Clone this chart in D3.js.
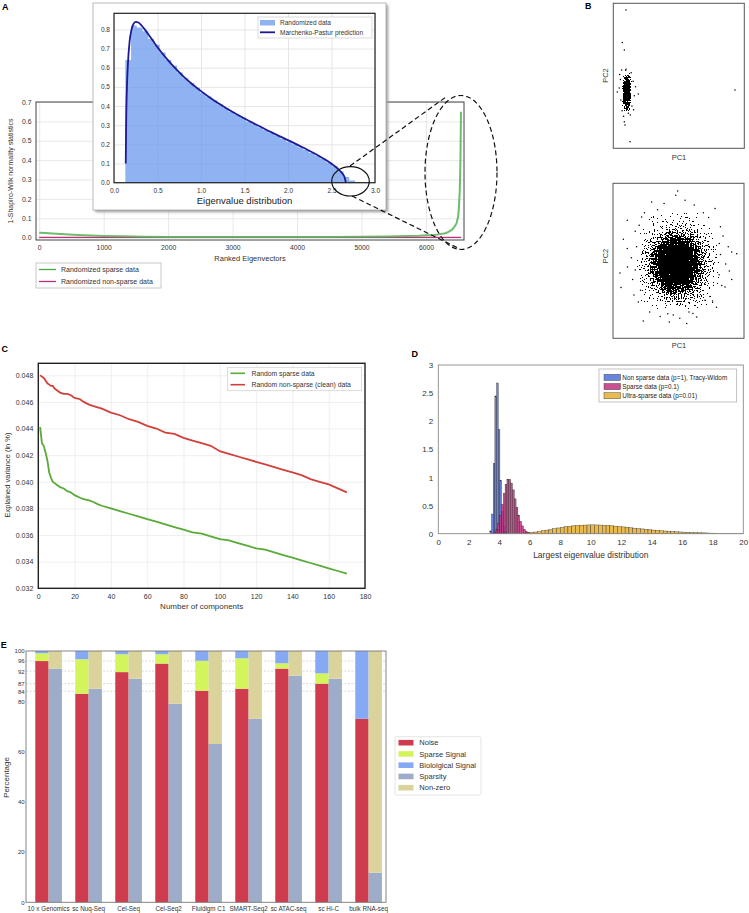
<!DOCTYPE html>
<html><head><meta charset="utf-8">
<script src="https://cdn.jsdelivr.net/npm/d3@7/dist/d3.min.js"></script>
<style>html,body{margin:0;padding:0;background:#fff;} svg{display:block;}</style>
</head><body>
<svg id="fig" width="749" height="913" xmlns="http://www.w3.org/2000/svg"></svg>
<script>
// ================= DATA =================
// Panel A (main): 1 - Shapiro-Wilk statistic per ranked eigenvector
const rankSparseA = [0,100,200,400,600,800,1000,1300,1600,2000,2500,3000,3500,4000,4500,5000,5400,5700,5900,6000,6100,6200,6300,6350,6400,6440,6475,6500,6512,6525,6535,6543];
const swSparseA   = [0.026,0.024,0.022,0.018,0.014,0.011,0.009,0.007,0.005,0.004,0.003,0.003,0.003,0.003,0.004,0.005,0.006,0.008,0.010,0.012,0.013,0.017,0.023,0.030,0.040,0.055,0.075,0.11,0.16,0.25,0.40,0.65];
const rankDenseA  = [0,3000,6543];
const swDenseA    = [0.002,0.002,0.002];
const xTicksA = [0,1000,2000,3000,4000,5000,6000];
const yTicksA = [0,0.1,0.2,0.3,0.4,0.5,0.6,0.7];
const legendA = ['Randomized sparse data','Randomized non-sparse data'];

// Panel A (inset): eigenvalue histogram + Marchenko-Pastur curve
const histStartI = 0.13, histBinWI = 0.066;
const histHeightsI = [0.64,0.82,0.81,0.79,0.75,0.72,0.68,0.64,0.61,0.575,0.545,0.52,0.495,0.47,0.45,0.43,0.41,0.39,0.37,0.355,0.34,0.32,0.305,0.29,0.275,0.26,0.245,0.23,0.215,0.2,0.185,0.17,0.155,0.14,0.125,0.105,0.085,0.06,0.03,0.012,0.004,0.001];
const mpX = [0.135,0.14,0.15,0.16,0.18,0.2,0.22,0.25,0.28,0.32,0.36,0.4,0.45,0.5,0.6,0.7,0.8,0.9,1.0,1.1,1.2,1.3,1.4,1.5,1.6,1.7,1.8,1.9,2.0,2.1,2.2,2.3,2.4,2.45,2.5,2.55,2.6,2.63,2.65,2.665];
const mpY = [0.10,0.32,0.515,0.62,0.74,0.796,0.825,0.839,0.836,0.819,0.796,0.771,0.739,0.707,0.65,0.599,0.554,0.514,0.478,0.445,0.414,0.386,0.36,0.335,0.311,0.288,0.265,0.243,0.222,0.2,0.177,0.154,0.128,0.115,0.099,0.082,0.061,0.045,0.029,0.0];
const xTicksI = [0,0.5,1,1.5,2,2.5,3];
const yTicksI = [0,0.1,0.2,0.3,0.4,0.5,0.6,0.7,0.8];
const legendI = ['Randomized data','Marchenko-Pastur prediction'];

// Panel B (top): sparse data PCA - dense core (point density per cell) + individual points
const coreColsB1 = [-1,-0.5,0,0.5];
const coreRowsB1 = [2.5,1.5,0.5,-0.5,-1.5,-2.5];
const coreDensB1 = [
  [0.45,0.8,0.8,0.45],
  [0.85,0.97,0.97,0.85],
  [0.92,0.97,0.97,0.92],
  [0.92,0.97,0.97,0.92],
  [0.85,0.97,0.97,0.8],
  [0.4,0.75,0.7,0.4]];
const pointsB1 = [[-0.2,13.3],[-1.13,7.9],[-0.63,6.67],[-1.28,3.36],[-0.2,3.47],[27.25,0.05],[2.9,-0.62],[-0.63,-5.2],[-0.45,-5.75],[0.8,-8.5],
  [-1.6,1.8],[-1.9,0.4],[1.6,1.5],[1.9,-0.9],[-1.5,-1.6],[1.3,-2.6],[-1.2,-3.4],[0.4,-3.8],[-0.3,3.3],[1.1,2.9],[2.2,0.6],[-2.4,-0.3],[0.9,-4.1],[-0.8,-4.3],[1.7,-3.2],[-1.8,2.6]];

// Panel B (bottom): non-sparse data PCA - point density per cell
const coreColsB2 = [-3,-2.5,-2,-1.5,-1,-0.5,0,0.5,1,1.5,2,2.5];
const coreRowsB2 = [3,2.5,2,1.5,1,0.5,0,-0.5,-1,-1.5,-2,-2.5];
const coreDensB2 = [
  [.04,.07,.11,.14,.17,.18,.17,.16,.12,.09,.05,.03],
  [.07,.13,.19,.25,.3,.32,.31,.27,.22,.15,.1,.05],
  [.12,.2,.3,.39,.47,.52,.5,.43,.34,.24,.15,.09],
  [.18,.28,.42,.6,.79,.88,.85,.69,.49,.34,.22,.13],
  [.23,.37,.57,.87,.97,.97,.97,.94,.7,.44,.28,.16],
  [.26,.42,.71,.97,.97,.97,.97,.97,.87,.52,.32,.19],
  [.27,.44,.74,.97,.97,.97,.97,.97,.9,.54,.33,.2],
  [.25,.41,.67,.96,.97,.97,.97,.97,.83,.5,.31,.18],
  [.21,.34,.52,.8,.96,.97,.97,.9,.64,.41,.27,.15],
  [.16,.26,.38,.53,.69,.77,.74,.6,.44,.31,.2,.12],
  [.11,.18,.27,.35,.42,.45,.44,.38,.3,.22,.14,.08],
  [.07,.12,.16,.22,.26,.28,.27,.24,.19,.13,.08,.04]];
const pointsB2 = [[-0.06,4.5],[-0.21,4.23],[-2.05,3.79],[2.79,3.37],[-3.91,2.61],[-2.81,2.83],[-4.21,1.39],[-3.91,0.79],[-4.47,-0.79],[-4.39,-1.73],[4.44,0.46],[4.06,0.57],[3.11,1.11],[3.88,-0.66],[4.06,-1.21],[3.55,-1.69],[-3.07,-2.66],[-2.69,-3.88],[-0.82,-3.41],[-0.70,-3.95],[0.63,-4.05],[1.39,-3.63],[2.02,-2.55],
  [-3.3,1.9],[-3.6,0.2],[-3.5,-1.2],[-2.2,-3.3],[-1.4,-3.6],[0.1,-3.7],[1.1,-3.4],[2.6,-2.6],[3.3,-1.6],[3.6,-0.2],[3.4,1.6],[2.3,2.8],[1.2,3.6],[0.5,3.9],[-1.1,3.7],[-2.6,3.1],[-3.4,-2.2],[3.8,0.9],[-3.9,-0.4],[2.9,-3.0],
  [-3.2,0.9],[-3.3,-0.6],[3.2,0.4],[3.1,-0.9],[1.9,3.1],[-1.6,3.3],[-0.4,-3.5],[0.8,-3.3],[-2.9,-1.9],[2.4,-2.3],[3.2,2.2],[-3.0,2.3]];

// Panel C: explained variance per component
const compSparseC = [1,2,3,4,5,6,7,8,9,10,11,12,14,16,18,20,23,25,28,30,33,35,40,45,50,55,60,65,70,75,80,85,90,95,100,105,110,115,120,125,130,135,140,145,150,155,160,165,170];
const varSparseC  = [0.0441,0.0429,0.0427,0.0422,0.0416,0.0407,0.0403,0.0400,0.0399,0.0398,0.0397,0.0396,0.0395,0.0393,0.0392,0.0390,0.0388,0.0387,0.0386,0.0385,0.0383,0.0382,0.0380,0.0378,0.0376,0.0374,0.0372,0.0370,0.0368,0.0366,0.0364,0.0362,0.0361,0.0359,0.0357,0.0356,0.0354,0.0352,0.0350,0.0349,0.0347,0.0345,0.0343,0.0341,0.0339,0.0337,0.0335,0.0333,0.0331];
const compDenseC  = [1,2,3,4,5,6,7,8,9,10,11,12,14,16,18,20,23,25,28,30,35,40,45,50,55,60,65,70,75,80,85,90,95,100,105,110,115,120,125,130,135,140,145,150,155,160,165,170];
const varDenseC   = [0.0480,0.0479,0.0478,0.0476,0.0474,0.0473,0.0472,0.0472,0.0470,0.0469,0.0468,0.0467,0.0466,0.0466,0.0465,0.0463,0.0462,0.0460,0.0458,0.0457,0.0455,0.0452,0.0450,0.0447,0.0445,0.0442,0.0440,0.0437,0.0436,0.0433,0.0431,0.0429,0.0427,0.0423,0.0421,0.0419,0.0417,0.0415,0.0413,0.0411,0.0409,0.0407,0.0405,0.0402,0.0400,0.0398,0.0395,0.0392];
const xTicksC = [0,20,40,60,80,100,120,140,160,180];
const yTicksC = [0.032,0.034,0.036,0.038,0.040,0.042,0.044,0.046,0.048];
const legendC = ['Random sparse data','Random non-sparse (clean) data'];

// Panel D: largest eigenvalue histograms
const blueStartD = 3.38, blueBinWD = 0.11;
const blueHD = [0.05,0.35,1.25,2.45,2.68,1.85,0.95,0.40,0.12,0.03];
const magStartD = 3.54, magBinWD = 0.12;
const magHD = [0.01,0.03,0.08,0.18,0.33,0.52,0.72,0.88,0.96,0.97,0.9,0.78,0.62,0.47,0.33,0.22,0.14,0.08,0.045,0.025,0.01];
const goldStartD = 5.5, goldBinWD = 0.25;
const goldHD = [0.010,0.015,0.022,0.030,0.040,0.052,0.064,0.076,0.090,0.102,0.114,0.124,0.133,0.140,0.146,0.151,0.154,0.156,0.157,0.156,0.154,0.150,0.146,0.141,0.135,0.128,0.121,0.114,0.107,0.099,0.092,0.085,0.078,0.071,0.065,0.059,0.053,0.048,0.043,0.039,0.035,0.031,0.028,0.025,0.022,0.019,0.017,0.015,0.013,0.011,0.010,0.008,0.007,0.006,0.005,0.004,0.004,0.003];
const xTicksD = [0,2,4,6,8,10,12,14,16,18,20];
const yTicksD = [0,0.5,1,1.5,2,2.5,3];
const legendD = ['Non sparse data (p=1), Tracy-Widom','Sparse data (p=0.1)','Ultra-sparse data (p=0.01)'];

// Panel E: stacked percentages
const categoriesE = ['10 x Genomics','sc Nuq-Seq','Cel-Seq','Cel-Seq2','Fluidigm C1','SMART-Seq2','sc ATAC-seq','sc Hi-C','bulk RNA-seq'];
const noiseE        = [96,83,91.6,95,84.2,85,93,87,73];
const sparseSignalE = [3.1,13.7,7.1,3.7,11.9,12.1,2.1,4.1,0];
const bioSignalE    = [0.9,3.3,1.3,1.3,3.9,2.9,4.9,8.9,27];
const sparsityE     = [93,85,89,79,63,73,90.2,89,11.8];
const nonZeroE      = [7,15,11,21,37,27,9.8,11,88.2];
const yTicksE = [0,20,40,60,80,84,87,92,96,100];
const refLinesE = [84,87,92,96];
const legendE = ['Noise','Sparse Signal','Biololgical Signal','Sparsity','Non-zero'];

// ================= DRAWING =================
const FONT = '"Liberation Sans", Arial, Helvetica, sans-serif';
const svg = d3.select('#fig').attr('font-family', FONT);
svg.append('rect').attr('width',749).attr('height',913).attr('fill','#fff');
const defs = svg.append('defs');
defs.append('filter').attr('id','shadow').attr('x','-5%').attr('y','-5%').attr('width','115%').attr('height','115%')
  .append('feGaussianBlur').attr('stdDeviation',1.5);
// dither filter: renders a point-density field as a dotted texture, masked to where density > 0
function speckleFilter(id, blur, seed, freq, box) {
  const f = defs.append('filter').attr('id',id).attr('filterUnits','userSpaceOnUse')
    .attr('x',box[0]).attr('y',box[1]).attr('width',box[2]).attr('height',box[3])
    .attr('color-interpolation-filters','sRGB');
  f.append('feGaussianBlur').attr('in','SourceGraphic').attr('stdDeviation',blur).attr('result','b');
  f.append('feTurbulence').attr('type','fractalNoise').attr('baseFrequency',freq).attr('numOctaves',1).attr('seed',seed).attr('result','n');
  f.append('feColorMatrix').attr('in','n').attr('type','matrix')
    .attr('values','0 0 0 0 0  0 0 0 0 0  0 0 0 0 0  1 0 0 0 0').attr('result','na');
  f.append('feComposite').attr('in','b').attr('in2','na').attr('operator','arithmetic')
    .attr('k1',0).attr('k2',1).attr('k3',2).attr('k4',-1.0).attr('result','c');
  const ct = f.append('feComponentTransfer').attr('in','c').attr('result','d');
  ['feFuncR','feFuncG','feFuncB'].forEach(fn=>ct.append(fn).attr('type','linear').attr('slope',0).attr('intercept',0));
  ct.append('feFuncA').attr('type','discrete').attr('tableValues','0 1');
  const mt = f.append('feComponentTransfer').attr('in','b').attr('result','m');
  mt.append('feFuncA').attr('type','discrete').attr('tableValues','0 ' + Array(24).fill(1).join(' '));
  f.append('feComposite').attr('in','d').attr('in2','m').attr('operator','in');
}

function gridAxes(g, x, y, o) {
  const xr = x.range(), yr = y.range();
  const w = xr[1]-xr[0], h = yr[0]-yr[1];
  const ax = g.append('g').attr('transform',`translate(0,${yr[0]})`)
    .call(d3.axisBottom(x).tickValues(o.xt).tickFormat(o.xf).tickSize(o.grid ? -h : 0).tickPadding(o.padX));
  const ay = g.append('g').attr('transform',`translate(${xr[0]},0)`)
    .call(d3.axisLeft(y).tickValues(o.yt).tickFormat(o.yf).tickSize(o.grid ? -w : 0).tickPadding(o.padY));
  [ax,ay].forEach(a=>{
    a.select('.domain').remove();
    a.selectAll('.tick line').attr('stroke', o.gridColor || '#e4e4e4').attr('stroke-width',0.8);
    a.selectAll('.tick text').attr('font-size',o.fs).attr('fill',o.tc||'#333').attr('font-family',FONT);
  });
  if (o.xFs) ax.selectAll('.tick text').attr('font-size', o.xFs);
  return {ax, ay};
}
function frame(g, x, y, stroke, sw) {
  const xr = x.range(), yr = y.range();
  g.append('rect').attr('x',xr[0]).attr('y',yr[1]).attr('width',xr[1]-xr[0]).attr('height',yr[0]-yr[1])
    .attr('fill','none').attr('stroke',stroke).attr('stroke-width',sw);
}
function label(g, txt, x, y, fs, opts={}) {
  const t = g.append('text').attr('x',x).attr('y',y).attr('font-size',fs).attr('fill',opts.fill||'#222')
    .attr('text-anchor',opts.anchor||'start').text(txt);
  if (opts.rot) t.attr('transform',`rotate(-90,${x},${y})`);
  if (opts.bold) t.attr('font-weight','bold');
  return t;
}

// ---------- Panel A main ----------
const xA = d3.scaleLinear().domain([-50,6590]).range([36,464]);
const yA = d3.scaleLinear().domain([-0.012,0.7]).range([240,102]);
const gA = svg.append('g');
gridAxes(gA, xA, yA, {xt:xTicksA, yt:yTicksA, xf:d3.format('d'), yf:d3.format('.1f'), fs:6.8, padX:5.5, padY:4.5, grid:true, gridColor:'#e2e2e2'});
const lineA = d3.line().x(d=>xA(d[0])).y(d=>yA(d[1]));
gA.append('path').attr('d', lineA(d3.zip(rankDenseA, swDenseA))).attr('fill','none').attr('stroke','#c0307a').attr('stroke-width',1.2);
gA.append('path').attr('d', lineA(d3.zip(rankSparseA, swSparseA))).attr('fill','none').attr('stroke','#55b055').attr('stroke-width',2).attr('stroke-opacity',0.85);
frame(gA, xA, yA, '#444', 1);
label(gA, 'Ranked Eigenvectors', 250, 261, 7.5, {anchor:'middle', fill:'#333'});
label(gA, '1-Shapiro-Wilk normality statistics', 13, 171, 7, {anchor:'middle', rot:true, fill:'#333'});
gA.append('rect').attr('x',36).attr('y',263).attr('width',125).attr('height',25).attr('fill','#fff').attr('stroke','#bbb').attr('stroke-width',0.8);
[['#44a844',269.5],['#c0307a',281.5]].forEach((c,i)=>{
  gA.append('line').attr('x1',39).attr('x2',56).attr('y1',c[1]).attr('y2',c[1]).attr('stroke',c[0]).attr('stroke-width',1.3);
  label(gA, legendA[i], 61, c[1]+2.5, 7, {fill:'#333'});
});

// ---------- Panel A inset ----------
const gI = svg.append('g');
gI.append('rect').attr('x',95).attr('y',5).attr('width',293).attr('height',207).attr('fill','#999').attr('filter','url(#shadow)');
gI.append('rect').attr('x',93).attr('y',3).attr('width',293).attr('height',207).attr('fill','#fff').attr('stroke','#aaa').attr('stroke-width',0.8);
const xI = d3.scaleLinear().domain([0,3]).range([114,375]);
const yI = d3.scaleLinear().domain([0,0.884]).range([182.7,13.3]);
gridAxes(gI, xI, yI, {xt:xTicksI, yt:yTicksI, xf:d3.format('.1f'), yf:d3.format('.1f'), fs:6.5, padX:6, padY:4, grid:true, gridColor:'#e0e0e0'});
const histPts = histHeightsI.map((h,i)=>[histStartI + i*histBinWI, h]);
histPts.push([histStartI + histHeightsI.length*histBinWI, histHeightsI[histHeightsI.length-1]]);
gI.append('path').attr('d', d3.area().curve(d3.curveStepAfter).x(d=>xI(d[0])).y0(yI(0)).y1(d=>yI(d[1]))(histPts))
  .attr('fill','#6495ed').attr('fill-opacity',0.72);
gI.append('path').attr('d', d3.line().curve(d3.curveMonotoneX).x(d=>xI(d[0])).y(d=>yI(d[1]))(d3.zip(mpX,mpY)))
  .attr('fill','none').attr('stroke','#1c1a96').attr('stroke-width',1.8);
frame(gI, xI, yI, '#222', 1.2);
label(gI, 'Eigenvalue distribution', 244.5, 204, 9.5, {anchor:'middle', fill:'#222'});
gI.append('rect').attr('x',258).attr('y',17).attr('width',114).attr('height',21).attr('fill','#fff').attr('stroke','#ccc').attr('stroke-width',0.7);
gI.append('rect').attr('x',260).attr('y',20).attr('width',15).attr('height',5.5).attr('fill','#6495ed').attr('fill-opacity',0.72);
gI.append('line').attr('x1',260).attr('x2',275).attr('y1',32.3).attr('y2',32.3).attr('stroke','#1c1a96').attr('stroke-width',1.8);
label(gI, legendI[0], 280, 25, 6.5, {fill:'#333'});
label(gI, legendI[1], 280, 34.6, 6.5, {fill:'#333'});

// zoom annotations
const gZ = svg.append('g').attr('fill','none');
gZ.append('ellipse').attr('cx',350.5).attr('cy',181.3).attr('rx',18.8).attr('ry',14.7).attr('stroke','#111').attr('stroke-width',1.2);
gZ.append('ellipse').attr('cx',461).attr('cy',172.5).attr('rx',36).attr('ry',77).attr('stroke','#111').attr('stroke-width',1.2).attr('stroke-dasharray','5,3');
gZ.append('line').attr('x1',350).attr('y1',166).attr('x2',445).attr('y2',97.7).attr('stroke','#111').attr('stroke-width',1.2).attr('stroke-dasharray','5,3');
gZ.append('line').attr('x1',352).attr('y1',196).attr('x2',460).attr('y2',249).attr('stroke','#111').attr('stroke-width',1.2).attr('stroke-dasharray','5,3');

// ---------- Panel B ----------
function scatterBox(id, x, y, cols, rows, dens, cw, ch, pts, blur, seed) {
  const g = svg.append('g');
  const xr = x.range(), yr = y.range();
  const box = [xr[0], yr[1], xr[1]-xr[0], yr[0]-yr[1]];
  speckleFilter('sp'+id, blur, seed, 0.75, box);
  defs.append('clipPath').attr('id',id).append('rect').attr('x',box[0]).attr('y',box[1]).attr('width',box[2]).attr('height',box[3]);
  const inner = g.append('g').attr('clip-path',`url(#${id})`);
  const core = inner.append('g').attr('filter',`url(#sp${id})`);
  core.append('rect').attr('x',box[0]).attr('y',box[1]).attr('width',box[2]).attr('height',box[3]).attr('fill','#000').attr('fill-opacity',0);
  rows.forEach((r,ri)=>cols.forEach((c,ci)=>{
    core.append('rect').attr('x',x(c)).attr('y',y(r)).attr('width',x(c+cw)-x(c)).attr('height',y(r-ch)-y(r))
      .attr('fill','#000').attr('fill-opacity',dens[ri][ci]).attr('shape-rendering','crispEdges');
  }));
  inner.append('g').selectAll('circle').data(pts).join('circle').attr('cx',d=>x(d[0])).attr('cy',d=>y(d[1])).attr('r',0.75).attr('fill','#000');
  frame(g, x, y, '#555', 1);
  return g;
}
const xB1 = d3.scaleLinear().domain([-3.4,29.6]).range([613.3,744.3]);
const yB1 = d3.scaleLinear().domain([-9.6,14.4]).range([148.3,3.3]);
const gB1 = scatterBox('clipB1', xB1, yB1, coreColsB1, coreRowsB1, coreDensB1, 0.5, 1, pointsB1, 0.9, 7);
label(gB1, 'PC1', 679, 159.5, 7.5, {anchor:'middle', fill:'#333'});
label(gB1, 'PC2', 608, 75.5, 7.5, {anchor:'middle', rot:true, fill:'#333'});
const xB2 = d3.scaleLinear().domain([-5,5]).range([613,744]);
const yB2 = d3.scaleLinear().domain([-5,5]).range([338.3,183.3]);
const gB2 = scatterBox('clipB2', xB2, yB2, coreColsB2, coreRowsB2, coreDensB2, 0.5, 0.5, pointsB2, 2.2, 3);
label(gB2, 'PC1', 679, 348, 7.5, {anchor:'middle', fill:'#333'});
label(gB2, 'PC2', 608, 256, 7.5, {anchor:'middle', rot:true, fill:'#333'});

// ---------- Panel C ----------
const xC = d3.scaleLinear().domain([0,180]).range([38.3,365]);
const yC = d3.scaleLinear().domain([0.032,0.0489]).range([588.3,363.3]);
const gC = svg.append('g');
gridAxes(gC, xC, yC, {xt:xTicksC, yt:yTicksC, xf:d3.format('d'), yf:d3.format('.3f'), fs:7, padX:5.5, padY:5, grid:true, gridColor:'#ebebeb'});
const lineC = d3.line().x(d=>xC(d[0])).y(d=>yC(d[1]));
gC.append('path').attr('d', lineC(d3.zip(compDenseC, varDenseC))).attr('fill','none').attr('stroke','#d2403c').attr('stroke-width',1.8);
gC.append('path').attr('d', lineC(d3.zip(compSparseC, varSparseC))).attr('fill','none').attr('stroke','#5aaa3a').attr('stroke-width',1.8);
frame(gC, xC, yC, '#222', 1.4);
label(gC, 'Number of components', 201.7, 609, 8, {anchor:'middle', fill:'#333'});
label(gC, 'Explained variance (in %)', 9.5, 475, 7.5, {anchor:'middle', rot:true, fill:'#333'});
gC.append('rect').attr('x',227.7).attr('y',367.3).attr('width',134).attr('height',23.4).attr('fill','#fff').attr('stroke','#ccc').attr('stroke-width',0.7);
[['#5aaa3a',373.3],['#d2403c',384.7]].forEach((c,i)=>{
  gC.append('line').attr('x1',230.5).attr('x2',245).attr('y1',c[1]).attr('y2',c[1]).attr('stroke',c[0]).attr('stroke-width',1.6);
  label(gC, legendC[i], 251.5, c[1]+2.4, 6.8, {fill:'#333'});
});

// ---------- Panel D ----------
const xD = d3.scaleLinear().domain([0,20]).range([438.3,743.3]);
const yD = d3.scaleLinear().domain([0,3]).range([533.7,365]);
const gD = svg.append('g');
gridAxes(gD, xD, yD, {xt:xTicksD, yt:yTicksD, xf:d3.format('d'), yf:d=>String(d), fs:8, padX:5.6, padY:5, grid:false, tc:'#333'});
const colD = [['#4f6ed8',0.85],['#c0337c',0.85],['#e7b43c',0.9]];
function histD(start, bw, hs, col) {
  gD.append('g').selectAll('rect').data(hs).join('rect')
    .attr('x',(d,i)=>xD(start+i*bw)).attr('width',xD(bw)-xD(0)).attr('y',d=>yD(d)).attr('height',d=>yD(0)-yD(d))
    .attr('fill',col[0]).attr('fill-opacity',col[1]).attr('stroke','#2a2a2a').attr('stroke-width',0.35);
}
histD(blueStartD, blueBinWD, blueHD, colD[0]);
histD(magStartD, magBinWD, magHD, colD[1]);
histD(goldStartD, goldBinWD, goldHD, colD[2]);
frame(gD, xD, yD, '#8a8a8a', 0.9);
label(gD, 'Largest eigenvalue distribution', 590.8, 557.5, 8.5, {anchor:'middle', fill:'#333'});
gD.append('rect').attr('x',599).attr('y',369).attr('width',137.7).attr('height',33).attr('fill','#fff').attr('stroke','#aaa').attr('stroke-width',0.7);
[377.3,386.5,395.6].forEach((yy,i)=>{
  gD.append('rect').attr('x',604).attr('y',yy-3).attr('width',16.5).attr('height',6.2)
    .attr('fill',colD[i][0]).attr('fill-opacity',colD[i][1]).attr('stroke','#333').attr('stroke-width',0.4);
  label(gD, legendD[i], 622.3, yy+2.3, 6.4, {fill:'#222'});
});

// ---------- Panel E ----------
const xE = d3.scaleBand().domain(categoriesE).range([28.6,388.6]).paddingInner(1/3).paddingOuter(1/6);
const yE = d3.scaleLinear().domain([0,100]).range([902.3,651]);
const gE = svg.append('g');
gridAxes(gE, xE, yE, {xt:categoriesE, yt:yTicksE, xf:d=>d, yf:d3.format('d'), fs:6, xFs:6.3, padX:3.8, padY:4, grid:false, tc:'#333'});
gE.append('g').selectAll('line').data(refLinesE).join('line')
  .attr('x1',26).attr('x2',386).attr('y1',d=>yE(d)).attr('y2',d=>yE(d)).attr('stroke','#c8c8c8').attr('stroke-width',0.7).attr('stroke-dasharray','2,1.5');
const colorsE = ['#cf3c4e','#d3f55b','#86a9f6','#9dadc9','#dad49c'];
const rowsE = categoriesE.map((c,i)=>({cat:c, noise:noiseE[i], sparse:sparseSignalE[i], bio:bioSignalE[i], sparsity:sparsityE[i], nonzero:nonZeroE[i]}));
const stackL = d3.stack().keys(['noise','sparse','bio'])(rowsE);
const stackR = d3.stack().keys(['sparsity','nonzero'])(rowsE);
const bw2 = xE.bandwidth()/2;
stackL.forEach((s,k)=>{
  gE.append('g').selectAll('rect').data(s).join('rect')
    .attr('x',d=>xE(d.data.cat)).attr('width',bw2).attr('y',d=>yE(d[1])).attr('height',d=>yE(d[0])-yE(d[1])).attr('fill',colorsE[k]);
});
stackR.forEach((s,k)=>{
  gE.append('g').selectAll('rect').data(s).join('rect')
    .attr('x',d=>xE(d.data.cat)+bw2).attr('width',bw2).attr('y',d=>yE(d[1])).attr('height',d=>yE(d[0])-yE(d[1])).attr('fill',colorsE[k+3]);
});
gE.append('rect').attr('x',26).attr('y',yE(100)).attr('width',360).attr('height',yE(0)-yE(100)).attr('fill','none').attr('stroke','#777').attr('stroke-width',0.9);
label(gE, 'Percentage', 9, 777.5, 8, {anchor:'middle', rot:true, fill:'#333'});
gE.append('rect').attr('x',395).attr('y',736.7).attr('width',86).attr('height',58.3).attr('rx',1.5).attr('fill','#fff').attr('stroke','#ddd').attr('stroke-width',0.8);
legendE.forEach((t,i)=>{
  const yy = 742.7 + i*11.25;
  gE.append('rect').attr('x',398.5).attr('y',yy-2.8).attr('width',15).attr('height',5.6).attr('fill',colorsE[i]);
  label(gE, t, 419.3, yy+2.7, 7.5, {fill:'#333'});
});

// ---------- Panel letters ----------
[['A',2,10],['B',585,9],['C',1.5,352],['D',411.5,357],['E',0.8,648]].forEach(p=>label(svg, p[0], p[1], p[2], 9, {bold:true, fill:'#000'}));
</script>
</body></html>
